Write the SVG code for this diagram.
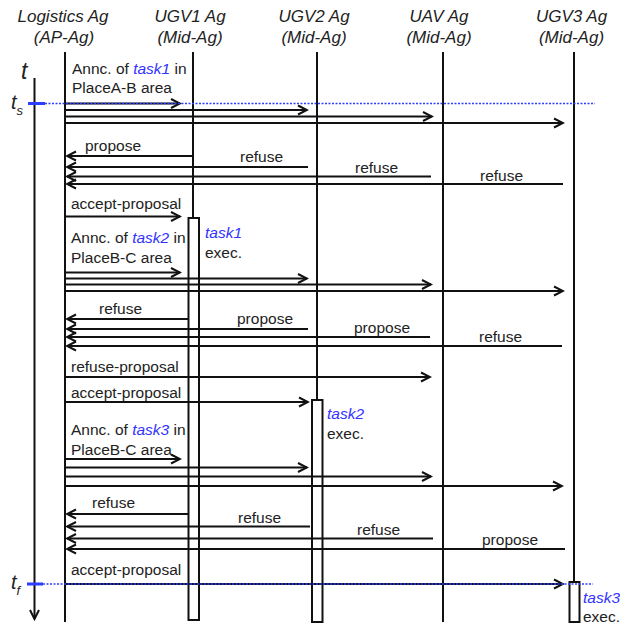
<svg xmlns="http://www.w3.org/2000/svg" width="620" height="628" viewBox="0 0 620 628">
  <style>
    .hdr { font-family: "Liberation Sans", Arial, sans-serif; font-style: italic; font-size: 17px; fill: #222; text-anchor: middle; }
    .lbl { font-family: "Liberation Sans", Arial, sans-serif; font-size: 15.5px; fill: #222; }
    .task { fill: #3333ff; font-style: italic; }
    .life { stroke: #111; stroke-width: 2; fill: none; }
    .act { stroke: #111; stroke-width: 2; fill: #fff; }
    .msg { stroke: #111; stroke-width: 2; fill: none; marker-end: url(#head); }
    .tick { fill: #2b3dff; }
    .dots { stroke: #2b3dff; stroke-width: 1.6; stroke-dasharray: 2 1.5; fill: none; }
    .tsym { font-family: "Liberation Sans", Arial, sans-serif; font-style: italic; fill: #222; }
  </style>
  <defs>
    <marker id="head" viewBox="-11 -6 13 12" refX="0" refY="0" markerWidth="13" markerHeight="12" markerUnits="userSpaceOnUse" orient="auto">
      <path d="M-9,-4.5 L0,0 L-9,4.5" fill="none" stroke="#111" stroke-width="2"/>
    </marker>
  </defs>

  <!-- time axis -->
  <g id="time-axis">
    <line x1="34.5" y1="78" x2="34.5" y2="619" class="msg"/>
    <text class="tsym" x="21" y="79" font-size="23">t</text>
    <text class="tsym" x="11" y="109" font-size="20">t<tspan font-size="13" dy="6">s</tspan></text>
    <text class="tsym" x="11" y="589" font-size="20">t<tspan font-size="13" dy="6">f</tspan></text>
    <rect class="tick" x="28" y="102" width="17" height="3"/>
    <rect class="tick" x="27" y="582.5" width="16" height="3"/>
  </g>

  <!-- agents and lifelines -->
  <g id="logistics-ag">
    <text class="hdr" x="63" y="22">Logistics Ag</text>
    <text class="hdr" x="64" y="43">(AP-Ag)</text>
    <line class="life" x1="65" y1="52" x2="65" y2="622"/>
  </g>
  <g id="ugv1-ag">
    <text class="hdr" x="190" y="22">UGV1 Ag</text>
    <text class="hdr" x="190" y="43">(Mid-Ag)</text>
    <line class="life" x1="193" y1="52" x2="193" y2="218"/>
    <rect class="act" x="188.5" y="218" width="10.5" height="402"/>
  </g>
  <g id="ugv2-ag">
    <text class="hdr" x="314" y="22">UGV2 Ag</text>
    <text class="hdr" x="314" y="43">(Mid-Ag)</text>
    <line class="life" x1="317" y1="52" x2="317" y2="400"/>
    <rect class="act" x="312" y="400" width="10.5" height="222"/>
  </g>
  <g id="uav-ag">
    <text class="hdr" x="439" y="22">UAV Ag</text>
    <text class="hdr" x="439" y="43">(Mid-Ag)</text>
    <line class="life" x1="443" y1="52" x2="443" y2="622"/>
  </g>
  <g id="ugv3-ag">
    <text class="hdr" x="571.5" y="22">UGV3 Ag</text>
    <text class="hdr" x="571.5" y="43">(Mid-Ag)</text>
    <line class="life" x1="574" y1="52" x2="574" y2="582"/>
    <rect class="act" x="569.5" y="582" width="10" height="40"/>
  </g>

  <!-- messages -->
  <g id="connectors">
    <!-- task1 announcement -->
    <line class="msg" x1="65" y1="103.5" x2="180" y2="103.5"/>
    <line class="msg" x1="65" y1="110" x2="307" y2="110"/>
    <line class="msg" x1="65" y1="116.5" x2="432" y2="116.5"/>
    <line class="msg" x1="65" y1="123" x2="563" y2="123"/>
    <!-- replies -->
    <line class="msg" x1="192" y1="156" x2="67" y2="156"/>
    <line class="msg" x1="308" y1="167" x2="67" y2="167"/>
    <line class="msg" x1="431" y1="176.5" x2="67" y2="176.5"/>
    <line class="msg" x1="563" y1="184" x2="67" y2="184"/>
    <line class="msg" x1="65" y1="216.5" x2="180" y2="216.5"/>
    <!-- task2 announcement -->
    <line class="msg" x1="65" y1="272.5" x2="180" y2="272.5"/>
    <line class="msg" x1="65" y1="278.5" x2="307" y2="278.5"/>
    <line class="msg" x1="65" y1="284.5" x2="431" y2="284.5"/>
    <line class="msg" x1="65" y1="291" x2="563" y2="291"/>
    <!-- replies -->
    <line class="msg" x1="188" y1="319" x2="67" y2="319"/>
    <line class="msg" x1="308" y1="329" x2="67" y2="329"/>
    <line class="msg" x1="430" y1="337" x2="67" y2="337"/>
    <line class="msg" x1="562" y1="346" x2="67" y2="346"/>
    <line class="msg" x1="65" y1="377" x2="430" y2="377"/>
    <line class="msg" x1="65" y1="402" x2="308" y2="402"/>
    <!-- task3 announcement -->
    <line class="msg" x1="65" y1="459" x2="180" y2="459"/>
    <line class="msg" x1="65" y1="467.5" x2="307" y2="467.5"/>
    <line class="msg" x1="65" y1="476.5" x2="431" y2="476.5"/>
    <line class="msg" x1="65" y1="486" x2="562" y2="486"/>
    <!-- replies -->
    <line class="msg" x1="188" y1="514" x2="67" y2="514"/>
    <line class="msg" x1="310" y1="526.5" x2="67" y2="526.5"/>
    <line class="msg" x1="433" y1="538.5" x2="67" y2="538.5"/>
    <line class="msg" x1="565" y1="549" x2="67" y2="549"/>
    <line class="msg" x1="65" y1="584" x2="563" y2="584"/>
    <!-- start / finish time markers -->
    <line class="dots" x1="45" y1="103.5" x2="595" y2="103.5"/>
    <line class="dots" x1="43" y1="584" x2="593" y2="584"/>
  </g>

  <!-- message labels -->
  <g id="labels">
    <text class="lbl" x="72" y="74">Annc. of <tspan class="task">task1</tspan> in</text>
    <text class="lbl" x="72" y="93">PlaceA-B area</text>
    <text class="lbl" x="85" y="151">propose</text>
    <text class="lbl" x="240" y="162">refuse</text>
    <text class="lbl" x="355" y="173">refuse</text>
    <text class="lbl" x="480" y="181">refuse</text>
    <text class="lbl" x="71" y="209">accept-proposal</text>
    <text class="lbl task" x="205" y="238">task1</text>
    <text class="lbl" x="205" y="258">exec.</text>

    <text class="lbl" x="71" y="242.5">Annc. of <tspan class="task">task2</tspan> in</text>
    <text class="lbl" x="71" y="262.5">PlaceB-C area</text>
    <text class="lbl" x="99" y="314">refuse</text>
    <text class="lbl" x="237" y="323.5">propose</text>
    <text class="lbl" x="354" y="332.5">propose</text>
    <text class="lbl" x="479" y="341.5">refuse</text>
    <text class="lbl" x="71" y="371.5">refuse-proposal</text>
    <text class="lbl" x="71" y="398">accept-proposal</text>
    <text class="lbl task" x="327" y="419">task2</text>
    <text class="lbl" x="327" y="439">exec.</text>

    <text class="lbl" x="71" y="435">Annc. of <tspan class="task">task3</tspan> in</text>
    <text class="lbl" x="71" y="455">PlaceB-C area</text>
    <text class="lbl" x="92" y="508">refuse</text>
    <text class="lbl" x="238" y="523">refuse</text>
    <text class="lbl" x="357" y="535">refuse</text>
    <text class="lbl" x="482" y="545">propose</text>
    <text class="lbl" x="71" y="575">accept-proposal</text>
    <text class="lbl task" x="583" y="603">task3</text>
    <text class="lbl" x="583" y="622">exec.</text>
  </g>
</svg>
